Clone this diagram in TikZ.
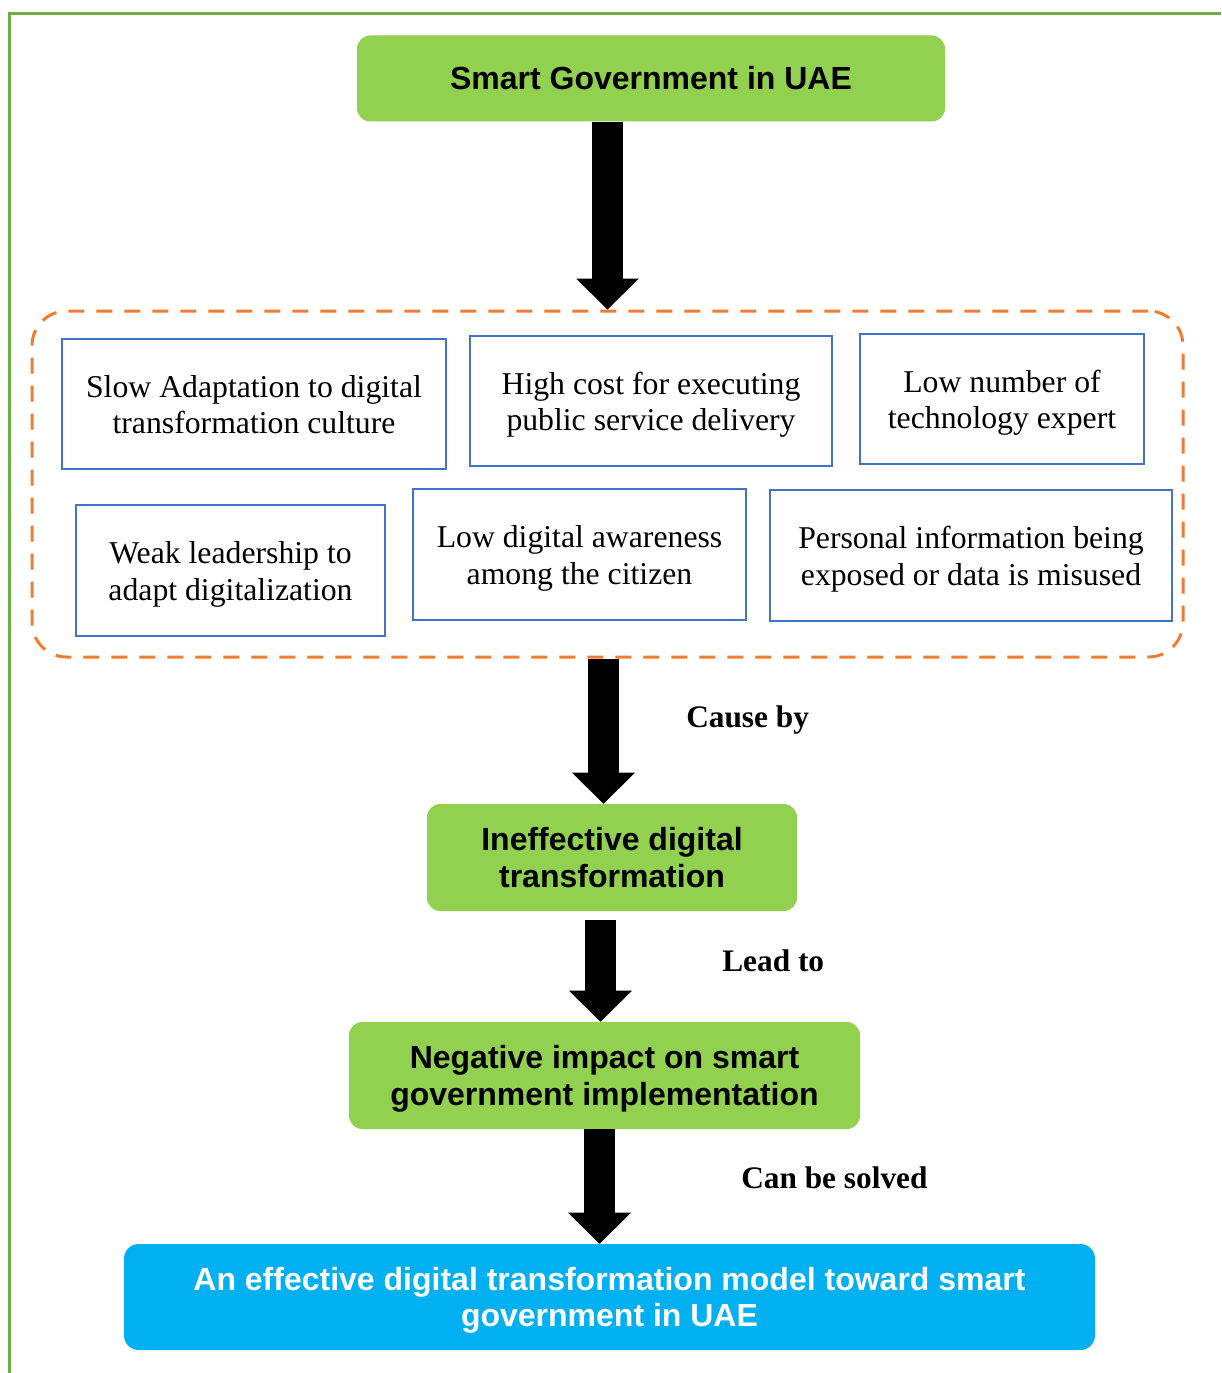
\documentclass[tikz,border=0pt]{standalone}
\usepackage{fontspec}
\setmainfont{Liberation Serif}
\setsansfont{Liberation Sans}
\usetikzlibrary{arrows.meta,calc}
\definecolor{frameg}{HTML}{70AD47}
\definecolor{boxgreen}{HTML}{92D050}
\definecolor{boxblue}{HTML}{4472C4}
\definecolor{dashorange}{HTML}{ED7D31}
\definecolor{solblue}{HTML}{00B0F0}
\newcommand\firstlinesp{\rule{0pt}{25.4pt}}
\tikzset{
  gbox/.style={fill=boxgreen, rounded corners=10pt, font=\sffamily\bfseries\fontsize{24}{27.5}\selectfont, align=center, inner sep=0pt},
  sbox/.style={fill=solblue, text=white, rounded corners=11pt, font=\sffamily\bfseries\fontsize{24}{27.5}\selectfont, align=center, inner sep=0pt},
  pbox/.style={draw=boxblue, line width=1.8pt, font=\fontsize{23.8}{27.5}\selectfont, align=center, inner sep=0pt},
  tstrut/.style={execute at end node=\strut},
  grpbox/.style={draw=dashorange, dash pattern=on 12pt off 9pt, line width=2.25pt, rounded corners=26pt, inner sep=0pt},
  lab/.style={font=\bfseries\fontsize{23.5}{27}\selectfont, anchor=west, inner sep=0pt},
  barrow/.style={line width=23.25pt, -{Triangle[width=47.25pt,length=23.25pt,line width=0pt]}},
}
\begin{document}
\begin{tikzpicture}[x=0.75pt,y=-0.75pt]
\useasboundingbox (0,0) rectangle (1221,1373);
\fill[white] (0,0) rectangle (1221,1373);
\draw[frameg, line width=2.25pt] (9,1373) -- (9,14) -- (1221,14);

\node[gbox, minimum width={588*0.75pt}, minimum height={86*0.75pt}] (top) at (651,78.5) {Smart Government in UAE};

\node[grpbox, minimum width={1151*0.75pt}, minimum height={346*0.75pt}] (grp) at (607.5,484) {};

\node[pbox, tstrut, minimum width={384*0.75pt}, minimum height={130*0.75pt}] (b1) at (254,404) {\firstlinesp Slow Adaptation to digital\\transformation culture};
\node[pbox, tstrut, minimum width={362*0.75pt}, minimum height={130*0.75pt}] (b2) at (651,401) {\firstlinesp High cost for executing\\public service delivery};
\node[pbox, tstrut, minimum width={284*0.75pt}, minimum height={130*0.75pt}] (b3) at (1002,399) {\firstlinesp Low number of\\technology expert};
\node[pbox, tstrut, minimum width={309*0.75pt}, minimum height={131*0.75pt}] (b4) at (230.5,570.5) {\firstlinesp Weak leadership to\\adapt digitalization};
\node[pbox, tstrut, minimum width={333*0.75pt}, minimum height={131*0.75pt}] (b5) at (579.5,554.5) {\firstlinesp Low digital awareness\\among the citizen};
\node[pbox, tstrut, minimum width={402*0.75pt}, minimum height={131*0.75pt}] (b6) at (971,555.5) {\firstlinesp Personal information being\\exposed or data is misused};

\node[gbox, tstrut, minimum width={370*0.75pt}, minimum height={107*0.75pt}] (ineff) at (612,857.5) {\firstlinesp Ineffective digital\\transformation};
\node[gbox, tstrut, minimum width={511*0.75pt}, minimum height={107*0.75pt}] (neg) at (604.5,1075.5) {\firstlinesp Negative impact on smart\\government implementation};
\node[sbox, tstrut, minimum width={971*0.75pt}, minimum height={106*0.75pt}] (sol) at (609.5,1297) {\firstlinesp An effective digital transformation model toward smart\\government in UAE};

\coordinate (a1) at (607.5,0);
\coordinate (a2) at (603.5,0);
\coordinate (a3) at (600.5,0);
\coordinate (a4) at (599.5,0);
\draw[barrow] (top.south -| a1) -- (grp.north -| a1);
\draw[barrow] (grp.south -| a2) -- (ineff.north -| a2);
\draw[barrow, shorten <=6.75pt] (ineff.south -| a3) -- (neg.north -| a3);
\draw[barrow] (neg.south -| a4) -- (sol.north -| a4);

\node[lab] (l1) at (686,720) {Cause by};
\node[lab] (l2) at (722,961) {Lead to};
\node[lab] (l3) at (741,1178) {Can be solved};
\end{tikzpicture}
\end{document}
